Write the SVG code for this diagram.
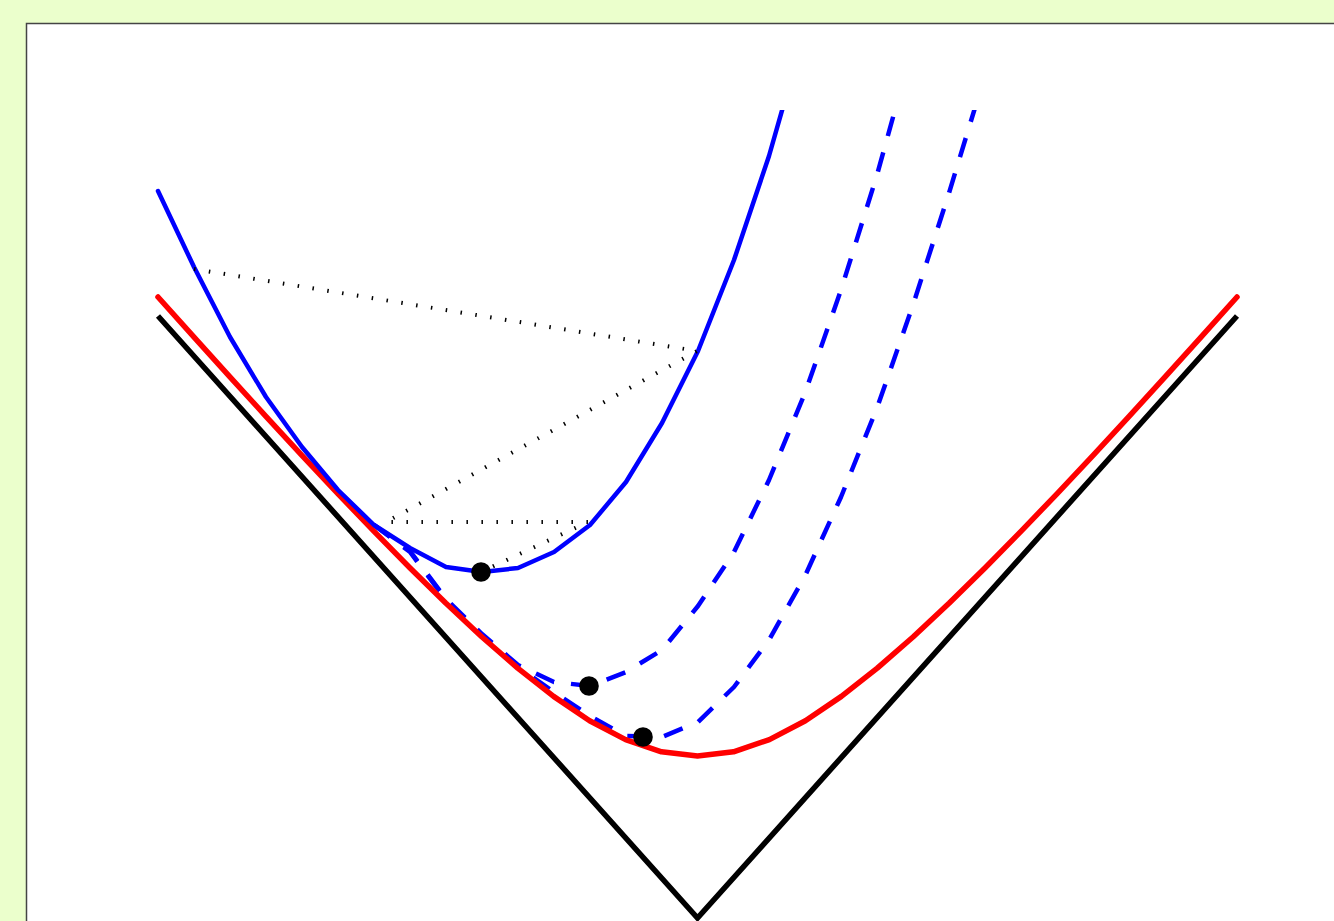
<svg xmlns="http://www.w3.org/2000/svg" width="1334" height="921" viewBox="0 0 1334 921">
<style>
.blk{fill:none;stroke:#000;stroke-width:5.5;stroke-linejoin:miter}
.red{fill:none;stroke:#ff0000;stroke-width:5.5;stroke-linejoin:round;stroke-linecap:round}
.blue{fill:none;stroke:#0000ff;stroke-width:4.5;stroke-linejoin:round;stroke-linecap:round}
.dash{fill:none;stroke:#0000ff;stroke-width:4.5;stroke-linejoin:round;stroke-dasharray:20 17}
.dot{fill:none;stroke:#000;stroke-width:4;stroke-dasharray:1.5 13.5}
.pt{fill:#000}
</style>
<defs>
<clipPath id="plot"><rect x="140" y="110" width="1120" height="820"/></clipPath>
</defs>
<rect x="0" y="0" width="1334" height="921" fill="#ebffcc"/>
<rect id="panel" x="26.5" y="23.5" width="1320" height="910" fill="#fff" stroke="#444" stroke-width="1.5"/>
<g id="connectors" clip-path="url(#plot)">
<polyline id="lightcone" class="blk" points="158,316 697.5,918 1237,316"/>
<polyline id="dashed-2" class="dash" points="374,525 410,552 446,600 482,636 518,667 554,692 590,716 626,736 662,737 698,722 734,687 769,640 805,576 841,497 877,408 913,305 949,193 985,75"/>
<polyline id="dashed-1" class="dash" points="374,525 410,551 446,599 482,634 518,665 554,682 590,686 626,672 662,650 698,606 734,552 769,480 805,393 841,290 877,175 913,45"/>
<polyline id="red-shell" class="red" points="158,297 194,337.2 229.9,376.9 265.9,416.3 301.9,455.3 337.8,493.6 373.8,531.1 409.8,567.7 445.7,603 481.7,636.7 517.7,668.1 553.6,696.4 589.6,720.7 625.6,739.6 661.5,751.8 697.5,756 733.5,751.8 769.4,739.6 805.4,720.7 841.4,696.4 877.3,668.1 913.3,636.7 949.3,603 985.2,567.7 1021.2,531.1 1057.2,493.6 1093.1,455.3 1129.1,416.3 1165.1,376.9 1201,337.2 1237,297"/>
<polyline id="blue-solid" class="blue" points="158,191 194,267 230,337 266,397 302,447 338,490 374,525 410,548 446,567 482,572 518,568 554,552 590,525 626,482 662,423 698,351 734,260 769,156 805,30"/>
<polyline id="dotted" class="dot" points="194,269 697,351 386,522 588,522 481,572"/>
</g>
<g id="node-a"><circle class="pt" cx="481" cy="572" r="9.8"/></g>
<g id="node-b"><circle class="pt" cx="589" cy="686" r="9.8"/></g>
<g id="node-c"><circle class="pt" cx="643" cy="737" r="9.8"/></g>
</svg>
